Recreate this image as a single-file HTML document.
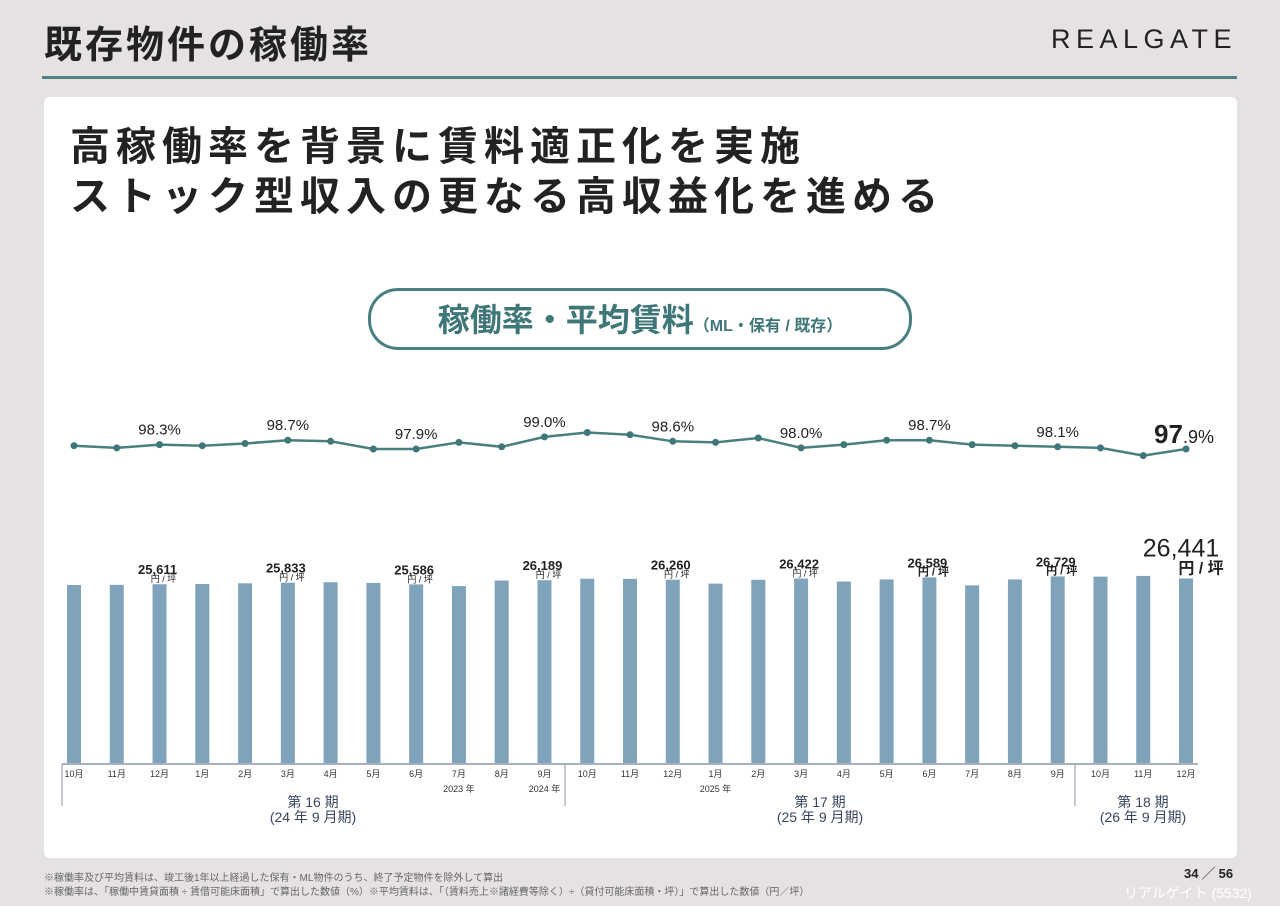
<!DOCTYPE html>
<html><head><meta charset="utf-8"><style>
body{margin:0;width:1280px;height:906px;background:#e6e2e2;font-family:"Liberation Sans","Noto Sans CJK JP",sans-serif;position:relative;overflow:hidden}
.a{position:absolute;white-space:nowrap}
</style></head><body>
<div class="a" style="left:44px;top:14px;font-size:38px;font-weight:bold;color:#222;letter-spacing:3px">既存物件の稼働率</div>
<div class="a" style="left:1051px;top:24px;font-size:27px;color:#222;letter-spacing:5.5px">REALGATE</div>
<div class="a" style="left:42px;top:76px;width:1195px;height:3px;background:#4f8386"></div>
<div class="a" style="left:44px;top:97px;width:1193px;height:761px;background:#fff;border-radius:6px"></div>
<div class="a" style="left:70px;top:122px;font-size:40px;font-weight:bold;color:#222;line-height:50px;letter-spacing:6px">高稼働率を背景に賃料適正化を実施<br>ストック型収入の更なる高収益化を進める</div>
<div class="a" style="left:368px;top:288px;width:538px;height:56px;border:3px solid #4a7f80;border-radius:30px;text-align:center;line-height:58px;color:#3f7778"><span style="font-size:32px;font-weight:bold">稼働率・平均賃料</span><span style="font-size:16px;font-weight:bold">（ML・保有 / 既存）</span></div>
<svg class="a" style="left:0;top:0" width="1280" height="906" id="chart"></svg>
<div class="a" style="left:44px;top:869px;font-size:10px;color:#666">※稼働率及び平均賃料は、竣工後1年以上経過した保有・ML物件のうち、終了予定物件を除外して算出</div>
<div class="a" style="left:44px;top:883px;font-size:10px;color:#666">※稼働率は、「稼働中賃貸面積 ÷ 賃借可能床面積」で算出した数値（%）※平均賃料は、「（賃料売上※諸経費等除く）÷（貸付可能床面積・坪）」で算出した数値（円／坪）</div>
<div class="a" style="left:1184px;top:863px;font-size:13px;font-weight:bold;color:#222">34 ╱ 56</div>
<div class="a" style="left:1124px;top:883px;font-size:14px;color:#fff">リアルゲイト (5532)</div>
<script>
const months=["10月","11月","12月","1月","2月","3月","4月","5月","6月","7月","8月","9月","10月","11月","12月","1月","2月","3月","4月","5月","6月","7月","8月","9月","10月","11月","12月"];
const occupancy=[98.2,98.0,98.3,98.2,98.4,98.7,98.6,97.9,97.9,98.5,98.1,99.0,99.4,99.2,98.6,98.5,98.9,98.0,98.3,98.7,98.7,98.3,98.2,98.1,98.0,97.3,97.9];
const rent=[25500,25520,25611,25640,25750,25833,25900,25800,25586,25350,26150,26189,26400,26380,26260,25700,26250,26422,26000,26300,26589,25450,26300,26729,26700,26800,26441];
const labelIdx=[2,5,8,11,14,17,20,23,26];
const NS="http://www.w3.org/2000/svg";
const svg=document.getElementById('chart');
function x(i){return 74+i*42.77;}
function yOcc(v){return 449-(v-97.9)*11;}
function hRent(v){return v*0.00698;}
const base=763;
function mk(t,a,txt){const e=document.createElementNS(NS,t);for(const k in a)e.setAttribute(k,a[k]);if(txt!==undefined)e.textContent=txt;svg.appendChild(e);return e;}
rent.forEach((v,i)=>{const h=hRent(v);
const r=mk('rect',{x:x(i)-7,y:base-h,width:14,height:h,fill:'#7fa3ba'});

});
labelIdx.forEach(i=>{const last=i===26;const top=base-hRent(rent[i]);
const t=mk('text',{x:last?x(i)-5:x(i)-2,y:last?top-22:top-10,'text-anchor':'middle','font-size':last?25:13,fill:'#222','font-weight':last?'normal':'bold'},rent[i].toLocaleString('en-US'));


const u=mk('text',{x:last?x(i)+15:x(i)+4,y:last?top-5:top-2,'text-anchor':'middle','font-size':last?16:(i>=20?11:9),'font-weight':i>=20?'bold':'normal',fill:'#222'},'円 / 坪');

});
const pts=occupancy.map((v,i)=>x(i)+','+yOcc(v)).join(' ');
const pl=mk('polyline',{points:pts,fill:'none',stroke:'#4a7f80','stroke-width':2.5});


occupancy.forEach((v,i)=>{const c=mk('circle',{cx:x(i),cy:yOcc(v),r:3.5,fill:'#3f7778'});

});
labelIdx.forEach(i=>{const last=i===26;
const t=mk('text',{x:last?x(i)-2:x(i),y:last?443:yOcc(occupancy[i])-10,'text-anchor':'middle','font-size':last?26:15,fill:'#222','font-weight':last?'bold':'normal'});


if(last){t.innerHTML='97<tspan font-size="18" font-weight="normal">.9%</tspan>';}else t.textContent=occupancy[i].toFixed(1)+'%';});
mk('line',{x1:62,y1:764,x2:1198,y2:764,stroke:'#8a96a6','stroke-width':1.5});
[62,565,1075].forEach(xx=>mk('line',{x1:xx,y1:764,x2:xx,y2:806,stroke:'#8a96a6','stroke-width':1}));
months.forEach((m,i)=>{const t=mk('text',{x:x(i),y:777,'text-anchor':'middle','font-size':9,fill:'#333'},m);

});
[[x(9),'2023 年'],[x(11),'2024 年'],[x(15),'2025 年']].forEach(a=>mk('text',{x:a[0],y:792,'text-anchor':'middle','font-size':9,fill:'#333'},a[1]));
[[313,'第 16 期','(24 年 9 月期)'],[820,'第 17 期','(25 年 9 月期)'],[1143,'第 18 期','(26 年 9 月期)']].forEach(a=>{
const t=mk('text',{x:a[0],y:807,'text-anchor':'middle','font-size':14,fill:'#3a4660'},a[1]);


mk('text',{x:a[0],y:822,'text-anchor':'middle','font-size':14,fill:'#3a4660'},a[2]);});
</script>
</body></html>
